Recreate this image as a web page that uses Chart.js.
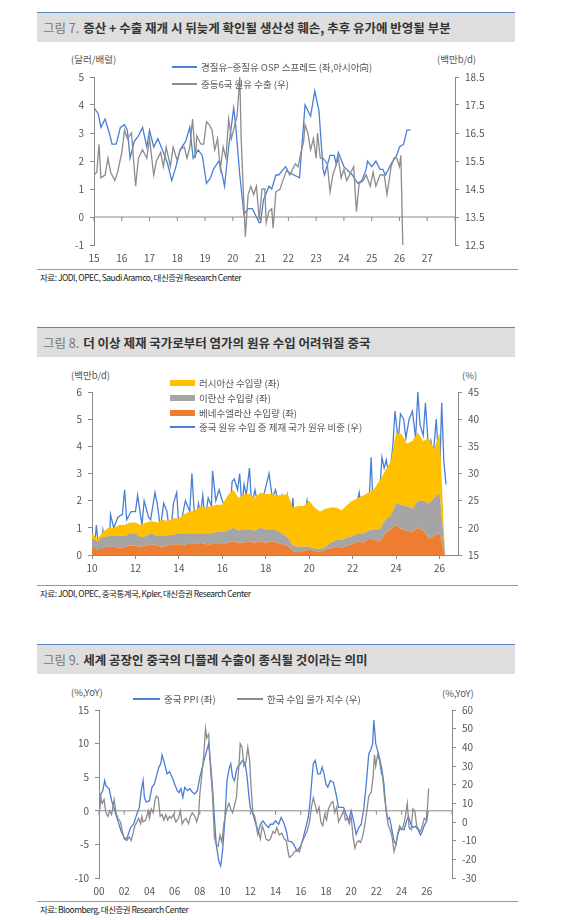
<!DOCTYPE html>
<html>
<head>
<meta charset="utf-8">
<script src="https://cdn.jsdelivr.net/npm/chart.js@4"></script>
<style>
  body { margin: 0; background: #fff; font-family: "Noto Sans CJK KR", sans-serif; color: #333; }
  .wrap { position: relative; width: 570px; height: 920px; }
  .hd { position: absolute; left: 37px; width: 478px; height: 30px; background: #dedede; border-top: 1px solid #5b86c5; font-size: 12.5px; font-weight: bold; line-height: 30px; padding-left: 6px; box-sizing: border-box; }
  .hd span { color: #777; font-weight: normal; margin-right: 4px; }
  .src { position: absolute; left: 37px; width: 478px; border-top: 1px solid #999; font-size: 8.5px; letter-spacing: -0.5px; padding: 1px 0 0 3px; color: #222; }
  .t { position: absolute; font-size: 9.5px; color: #555; white-space: nowrap; }
  .lg { position: absolute; font-size: 9.5px; color: #555; white-space: nowrap; display: flex; align-items: center; }
  .lg i { display: inline-block; margin-right: 4px; }
  canvas { position: absolute; }
</style>
</head>
<body>
<div class="wrap">
  <div class="hd" style="top:12px"><span>그림 7.</span>증산 + 수출 재개 시 뒤늦게 확인될 생산성 훼손, 추후 유가에 반영될 부분</div>
  <div class="t" style="left:71px;top:52px">(달러/배럴)</div>
  <div class="t" style="left:437px;top:52px">(백만b/d)</div>
  <canvas id="c1" width="475" height="210" style="left:40px;top:55px"></canvas>
  <div class="lg" style="left:172px;top:60px"><i style="width:25px;height:2px;background:#4a7fd6"></i>경질유−중질유 OSP 스프레드 (좌,아시아向)</div>
  <div class="lg" style="left:172px;top:77px"><i style="width:25px;height:2px;background:#8c8c8c"></i>중동6국 원유 수출 (우)</div>
  <div class="src" style="top:269px">자료: JODI, OPEC, Saudi Aramco, 대신증권 Research Center</div>

  <div class="hd" style="top:327px"><span>그림 8.</span>더 이상 제재 국가로부터 염가의 원유 수입 어려워질 중국</div>
  <div class="t" style="left:71px;top:368px">(백만b/d)</div>
  <div class="t" style="left:462px;top:368px">(%)</div>
  <canvas id="c2" width="475" height="195" style="left:40px;top:380px"></canvas>
  <div class="lg" style="left:170px;top:376px"><i style="width:25px;height:6px;background:#ffc000"></i>러시아산 수입량 (좌)</div>
  <div class="lg" style="left:170px;top:391px"><i style="width:25px;height:6px;background:#a5a5a5"></i>이란산 수입량 (좌)</div>
  <div class="lg" style="left:170px;top:406px"><i style="width:25px;height:6px;background:#ed7d31"></i>베네수엘라산 수입량 (좌)</div>
  <div class="lg" style="left:170px;top:420px"><i style="width:25px;height:2px;background:#4a7fd6"></i>중국 원유 수입 중 제재 국가 원유 비중 (우)</div>
  <div class="src" style="top:585px">자료: JODI, OPEC, 중국통계국, Kpler, 대신증권 Research Center</div>

  <div class="hd" style="top:644px"><span>그림 9.</span>세계 공장인 중국의 디플레 수출이 종식될 것이라는 의미</div>
  <div class="t" style="left:71px;top:685px">(%,YoY)</div>
  <div class="t" style="left:442px;top:686px">(%,YoY)</div>
  <canvas id="c3" width="475" height="200" style="left:40px;top:698px"></canvas>
  <div class="lg" style="left:133px;top:692px"><i style="width:27px;height:2px;background:#4a7fd6"></i>중국 PPI (좌)</div>
  <div class="lg" style="left:237px;top:692px"><i style="width:26px;height:2px;background:#8c8c8c"></i>한국 수입 물가 지수 (우)</div>
  <div class="src" style="top:901px">자료: Bloomberg, 대신증권 Research Center</div>
</div>
<script>
// ---- 그림 7 데이터 ----
const ospX = [15.0,15.15,15.25,15.4,15.55,15.65,15.8,15.95,16.1,16.2,16.3,16.45,16.6,16.75,16.9,17.0,17.15,17.3,17.5,17.65,17.8,17.95,18.1,18.3,18.45,18.57,18.75,18.9,19.05,19.2,19.3,19.5,19.6,19.7,19.85,20.03,20.1,20.25,20.4,20.55,20.7,20.95,21.0,21.1,21.3,21.4,21.55,21.65,21.9,22.0,22.2,22.4,22.6,22.8,22.95,23.1,23.25,23.3,23.5,23.65,23.72,23.8,24.0,24.2,24.3,24.5,24.65,24.8,24.85,25.0,25.15,25.3,25.4,25.5,25.7,25.9,26.0,26.15,26.27,26.4];
const ospY = [3.9,3.7,3.2,3.5,3.0,2.6,2.6,3.2,3.3,3.1,2.1,2.7,2.9,3.2,2.5,3.1,2.5,2.8,2.3,1.9,1.3,1.8,2.4,2.7,3.2,2.1,2.4,2.2,1.2,1.4,1.7,2.0,1.6,1.1,2.5,3.9,3.3,1.5,0.1,0.3,0.3,-0.2,-0.2,0.6,1.1,1.0,1.5,1.5,1.8,1.6,1.5,1.4,4.0,3.6,4.5,3.8,1.7,1.5,2.2,2.2,1.9,2.3,1.8,1.6,1.5,1.2,1.3,1.7,2.0,1.8,2.0,1.7,1.7,1.5,1.9,2.2,2.5,2.6,3.1,3.1];
const mideastX = [15.0,15.1,15.18,15.25,15.4,15.5,15.6,15.75,15.85,16.0,16.1,16.2,16.35,16.5,16.6,16.75,16.9,17.0,17.15,17.25,17.4,17.5,17.6,17.75,17.85,18.0,18.1,18.25,18.35,18.45,18.55,18.65,18.7,18.85,18.95,19.05,19.15,19.25,19.35,19.45,19.55,19.65,19.75,19.85,19.95,20.05,20.15,20.25,20.3,20.4,20.45,20.55,20.65,20.75,20.85,20.95,21.05,21.15,21.2,21.3,21.4,21.45,21.55,21.7,21.8,21.95,22.05,22.15,22.25,22.35,22.45,22.55,22.6,22.7,22.8,22.9,23.0,23.05,23.15,23.25,23.4,23.5,23.6,23.7,23.8,23.9,24.0,24.1,24.25,24.35,24.45,24.55,24.7,24.8,24.95,25.05,25.15,25.3,25.45,25.55,25.7,25.8,25.9,26.0,26.05,26.12];
const mideastY = [15.0,15.1,16.1,14.9,15.0,15.6,15.1,14.8,15.1,15.8,16.6,16.3,16.5,14.6,15.6,15.9,15.6,16.3,15.0,15.5,15.8,15.3,16.0,15.3,16.0,15.5,15.9,16.0,15.6,16.0,17.0,15.6,16.4,16.1,16.1,16.9,16.8,16.6,15.9,16.3,15.2,16.0,15.6,17.0,16.3,16.7,17.1,18.5,16.3,13.9,12.8,14.3,14.6,14.3,14.6,13.4,14.5,14.5,13.3,13.7,13.8,13.1,14.4,14.5,14.8,15.2,15.0,15.2,15.4,15.3,15.8,16.2,16.8,16.5,15.9,16.3,15.6,16.5,15.6,15.6,15.4,14.4,15.0,15.3,15.6,14.9,15.2,14.8,15.1,15.3,13.7,14.7,14.8,15.0,14.6,15.1,14.6,15.0,15.0,14.3,15.3,15.6,15.6,15.3,15.7,12.5];

// ---- 그림 8 데이터 (분기) ----
const importX = [2010,2010.25,2010.5,2010.75,2011,2011.25,2011.5,2011.75,2012,2012.25,2012.5,2012.75,2013,2013.25,2013.5,2013.75,2014,2014.25,2014.5,2014.75,2015,2015.25,2015.5,2015.75,2016,2016.25,2016.5,2016.75,2017,2017.25,2017.5,2017.75,2018,2018.25,2018.5,2018.75,2019,2019.25,2019.5,2019.75,2020,2020.25,2020.5,2020.75,2021,2021.25,2021.5,2021.75,2022,2022.25,2022.5,2022.75,2023,2023.25,2023.5,2023.75,2024,2024.25,2024.5,2024.75,2025,2025.25,2025.5,2025.75,2026,2026.25].map(v => v - 2000);
const venezuela = [.25,.2,.25,.3,.3,.25,.3,.35,.35,.3,.35,.4,.35,.3,.35,.4,.4,.35,.45,.4,.45,.4,.4,.45,.4,.45,.5,.45,.45,.5,.45,.5,.45,.5,.45,.4,.35,.15,.1,.15,.2,.15,.1,.2,.25,.3,.25,.35,.4,.5,.45,.6,.55,.5,.8,.95,1.1,.95,.9,.85,1.0,.9,.6,.7,.8,0];
const iran = [.35,.3,.4,.4,.4,.45,.4,.45,.45,.35,.35,.4,.35,.4,.35,.35,.4,.45,.35,.4,.35,.4,.4,.4,.45,.45,.5,.45,.5,.45,.45,.5,.5,.45,.45,.4,.3,.2,.2,.15,.1,.1,.1,.1,.2,.25,.3,.3,.3,.3,.35,.3,.4,.45,.5,.5,.8,.9,.9,.85,1.0,1.1,1.3,1.4,1.5,.1];
const russia = [.2,.1,.2,.3,.3,.4,.4,.4,.4,.45,.5,.45,.5,.6,.55,.6,.55,.7,.8,.85,1.0,.95,1.0,1.0,1.0,1.3,1.4,1.2,1.3,1.3,1.2,1.3,1.3,1.3,1.3,1.4,1.6,1.4,1.5,1.5,1.7,1.5,1.4,1.4,1.3,1.2,1.1,1.2,1.3,1.3,1.4,1.4,1.5,1.8,1.8,2.0,2.6,2.6,2.3,2.5,2.5,2.2,2.4,1.8,2.2,0];
const shareX = [10.0,10.1,10.2,10.35,10.5,10.6,10.8,10.85,11.0,11.2,11.4,11.5,11.6,11.8,12.0,12.1,12.3,12.4,12.6,12.7,12.9,13.0,13.15,13.3,13.45,13.6,13.75,13.9,14.0,14.15,14.3,14.5,14.6,14.75,14.9,15.0,15.1,15.2,15.35,15.5,15.55,15.7,15.85,16.0,16.1,16.2,16.35,16.45,16.55,16.7,16.8,16.9,17.0,17.1,17.25,17.35,17.5,17.6,17.75,17.9,18.0,18.15,18.3,18.45,18.6,18.75,18.9,19.0,19.15,19.25,19.35,19.5,19.65,19.75,19.9,20.0,20.15,20.3,20.45,20.55,20.65,20.8,20.9,21.05,21.2,21.35,21.5,21.6,21.75,21.9,22.0,22.15,22.3,22.45,22.55,22.7,22.85,22.95,23.1,23.25,23.35,23.45,23.55,23.65,23.75,23.85,23.95,24.1,24.2,24.35,24.45,24.6,24.75,24.9,25.0,25.1,25.25,25.35,25.5,25.6,25.7,25.85,26.0,26.1,26.2,26.3];
const shareY = [20,15.5,20.5,14.5,19.5,16,16,22.5,20,22,22.5,27,21.5,23,23,26,20.5,25,22,21.5,26.5,24.5,20,24.5,23,18,24.5,26.5,20,22,25,23,30,20,24.5,22.5,26,21.5,25.5,24,30.5,25,27,25,24,25,22.5,28.5,29,27,30,24,28,26,31,24,27,25,23.5,26,27.5,30,25.5,27,24,26,23.5,26,22,25.5,18,23,22,21,25,22,23.5,20,19,16,19.5,21,20,21.5,19,21.5,21,22.5,19,24,19.5,23.5,26.5,22,24,20,33,23,24.5,27,33,31,32.5,30,31.5,35,41.5,36,41,40,36.5,40,41.5,36.5,45,39,37,43,34,36,33,40,29.5,43,32,28];

// ---- 그림 9 데이터 ----
const ppiX = [0.0,0.15,0.3,0.45,0.55,0.8,1.0,1.25,1.5,1.75,2.0,2.2,2.5,2.75,3.0,3.2,3.35,3.5,3.6,3.75,4.0,4.2,4.4,4.6,4.75,4.9,5.0,5.2,5.4,5.6,5.8,6.0,6.2,6.35,6.5,6.65,6.8,7.0,7.2,7.4,7.6,7.8,8.0,8.2,8.4,8.55,8.7,8.85,9.0,9.15,9.3,9.5,9.65,9.8,10.0,10.15,10.35,10.45,10.6,10.75,10.9,11.0,11.2,11.4,11.6,11.75,11.9,12.0,12.2,12.45,12.6,12.8,13.0,13.2,13.45,13.6,13.8,14.0,14.25,14.45,14.7,14.9,15.0,15.25,15.45,15.7,15.9,16.0,16.2,16.4,16.6,16.75,16.9,17.0,17.15,17.35,17.55,17.7,17.85,18.0,18.15,18.35,18.6,18.8,19.0,19.2,19.4,19.6,19.8,20.0,20.2,20.4,20.6,20.8,21.0,21.2,21.4,21.55,21.7,21.8,21.95,22.1,22.3,22.45,22.6,22.75,22.9,23.05,23.2,23.4,23.55,23.7,23.85,24.0,24.2,24.4,24.55,24.7,24.9,25.1,25.3,25.5,25.65,25.8,26.0,26.1];
const ppiY = [-1,2.5,3,4.5,3.7,3.3,1.5,0,-1.5,-3,-4,-4.2,-2.5,-2,-0.5,0.5,3,4.5,2,1.3,1.5,3.5,4,5.5,6.5,7,8.3,7,5.5,5.8,5,4,3,2.7,3.3,2,3.5,3,3.3,2.8,2.5,3,5,6.5,8,9,10,7,3.5,-1,-5,-7.5,-8.2,-6,-1,4.5,6.5,7,5,4.5,6,6.5,7,7.5,7,5,2,0.5,-0.5,-2,-3.5,-2,-1.5,-2,-2.5,-2,-2,-1.5,-2,-1,-2,-3.3,-4.5,-4.6,-5,-6,-5.5,-5.3,-4,-2.5,-1,1.5,5,7,7.5,5.5,5.5,6.5,5.5,4,3.5,4.5,4.2,2.5,0.5,0.5,0.5,-0.5,-1.5,0,-1.5,-3.5,-2.5,-2,0.3,4,8.5,9,10,13.5,10,9,7.5,6,4,0.5,-1.3,-1,-2.5,-4.5,-5,-3.5,-2.7,-2.7,-2.8,-1.5,-0.8,-1.8,-2.5,-2.3,-2.8,-3.6,-3,-2.2,-1.5,0];
const kimpX = [0.0,0.1,0.25,0.4,0.55,0.7,0.85,1.0,1.2,1.35,1.5,1.7,1.85,2.0,2.2,2.4,2.55,2.7,2.85,3.0,3.15,3.3,3.4,3.5,3.7,3.9,4.0,4.15,4.3,4.45,4.55,4.7,4.85,5.0,5.15,5.3,5.45,5.6,5.75,5.9,6.1,6.3,6.45,6.6,6.75,6.9,7.1,7.25,7.4,7.6,7.75,7.9,8.0,8.15,8.3,8.45,8.55,8.7,8.85,9.0,9.15,9.3,9.45,9.6,9.75,9.9,10.1,10.3,10.45,10.6,10.75,10.9,11.0,11.1,11.2,11.35,11.5,11.65,11.8,11.95,12.05,12.2,12.35,12.5,12.65,12.8,12.95,13.1,13.25,13.45,13.6,13.8,13.95,14.1,14.3,14.5,14.7,14.85,15.0,15.1,15.3,15.5,15.7,15.9,16.1,16.3,16.5,16.7,16.85,17.0,17.15,17.3,17.45,17.6,17.75,17.9,18.05,18.2,18.4,18.55,18.7,18.85,19.0,19.2,19.4,19.55,19.7,19.85,20.0,20.15,20.3,20.45,20.6,20.75,20.9,21.05,21.2,21.4,21.6,21.75,21.85,21.95,22.1,22.25,22.4,22.5,22.65,22.8,22.95,23.1,23.25,23.4,23.55,23.7,23.85,24.0,24.15,24.3,24.45,24.6,24.75,24.9,25.05,25.2,25.35,25.5,25.65,25.8,25.95,26.05,26.15];
const kimpY = [3,14,10,12,5,3,6,4,12,5,2,0,-5,-9,-10,-8,-10,-6,-2,0,2,-1,3,0,1,6,2,7,5,12,14,13,3,4,1,4,1,3,2,4,0,2,6,-1,1,2,-1,3,5,3,0,4,15,25,35,50,45,47,28,15,-8,-12,-13,-7,-11,-1,6,10,7,5,9,13,23,30,42,40,30,32,40,33,20,5,3,-2,-5,-9,-2,-5,-9,-10,-9,-5,-6,-3,-7,-6,-9,-10,-16,-19,-18,-16,-15,-16,-11,-8,-5,0,8,13,9,5,8,0,-2,4,1,7,10,11,5,8,0,3,6,1,2,-1,3,-8,-14,-11,-10,-11,-8,-3,4,14,16,25,36,30,36,33,26,24,13,5,-2,-4,-8,-16,-12,-6,-2,-4,-2,3,10,-3,-4,7,6,-2,-4,-5,-2,2,1,7,18];

const BLUE = '#4a7fd6', GRAY = '#8c8c8c', AXIS = '#8a8a8a';
const FONT = { family: '"Noto Sans CJK KR", sans-serif', size: 10 };
Chart.defaults.color = '#555';

const pts = (xs, ys) => xs.map((x, i) => ({ x, y: ys[i] }));

// y=0 기준선 + 연도 눈금
const zeroLine = {
  id: 'zeroLine',
  afterDatasetsDraw(chart, args, opts) {
    const { ctx, chartArea: a, scales } = chart;
    const y = scales.y.getPixelForValue(0);
    ctx.save();
    ctx.strokeStyle = AXIS;
    ctx.lineWidth = 1;
    ctx.beginPath();
    ctx.moveTo(a.left, y); ctx.lineTo(a.right, y);
    for (let v = scales.x.min; v <= scales.x.max; v += opts.step) {
      const x = scales.x.getPixelForValue(v);
      ctx.moveTo(x, y); ctx.lineTo(x, y + 4);
    }
    ctx.stroke();
    ctx.restore();
  }
};

function yAxis(pos, min, max, step, width) {
  return {
    position: pos, min, max,
    ticks: { stepSize: step, font: FONT, padding: 6 },
    grid: { drawOnChartArea: false, color: AXIS, tickLength: 4 },
    border: { color: AXIS },
    afterFit: s => { s.width = width; }
  };
}

// x축 눈금: first..last, step 간격으로 직접 지정
function xAxis(min, max, first, last, step, fmt, showBorder) {
  return {
    type: 'linear', min, max,
    ticks: { font: FONT, autoSkip: false, callback: fmt, maxRotation: 0 },
    grid: { display: showBorder, drawOnChartArea: false, color: AXIS, tickLength: 4 },
    border: { display: showBorder, color: AXIS },
    afterBuildTicks: s => {
      const t = [];
      for (let v = first; v <= last; v += step) t.push({ value: v });
      s.ticks = t;
    },
    afterFit: s => { s.height = 20; }
  };
}

const base = {
  responsive: false, animation: false,
  plugins: { legend: { display: false }, tooltip: { enabled: false } },
  elements: { point: { radius: 0 }, line: { borderWidth: 1.3, tension: 0 } }
};

// 그림 7
new Chart(document.getElementById('c1'), {
  type: 'line',
  data: { datasets: [
    { data: pts(mideastX, mideastY), borderColor: GRAY, yAxisID: 'y2' },
    { data: pts(ospX, ospY), borderColor: BLUE, yAxisID: 'y' }
  ] },
  options: { ...base,
    layout: { padding: { top: 22 } },
    scales: {
      x: xAxis(15, 28, 15, 27, 1, v => v, false),
      y: yAxis('left', -1, 5, 1, 54),
      y2: yAxis('right', 12.5, 18.5, 1, 60)
    },
    plugins: { ...base.plugins, zeroLine: { step: 1 } }
  },
  plugins: [zeroLine]
});

// 그림 8
new Chart(document.getElementById('c2'), {
  type: 'line',
  data: { datasets: [
    { data: pts(importX, venezuela), backgroundColor: '#ed7d31', borderWidth: 0, fill: 'origin', stack: 's' },
    { data: pts(importX, iran), backgroundColor: '#a5a5a5', borderWidth: 0, fill: '-1', stack: 's' },
    { data: pts(importX, russia), backgroundColor: '#ffc000', borderWidth: 0, fill: '-1', stack: 's' },
    { data: pts(shareX, shareY), borderColor: BLUE, yAxisID: 'y2' }
  ] },
  options: { ...base,
    layout: { padding: { top: 7 } },
    scales: {
      x: xAxis(10, 26.85, 10, 26, 2, v => v, true),
      y: { ...yAxis('left', 0, 6, 1, 52), stacked: true },
      y2: yAxis('right', 15, 45, 5, 57)
    }
  }
});

// 그림 9
new Chart(document.getElementById('c3'), {
  type: 'line',
  data: { datasets: [
    { data: pts(kimpX, kimpY), borderColor: GRAY, yAxisID: 'y2' },
    { data: pts(ppiX, ppiY), borderColor: BLUE, yAxisID: 'y' }
  ] },
  options: { ...base,
    layout: { padding: { top: 9 } },
    scales: {
      x: xAxis(0, 28, 0, 26, 2, v => String(v).padStart(2, '0'), false),
      y: yAxis('left', -10, 15, 5, 59),
      y2: yAxis('right', -30, 60, 10, 63)
    },
    plugins: { ...base.plugins, zeroLine: { step: 2 } }
  },
  plugins: [zeroLine]
});
</script>
</body>
</html>
